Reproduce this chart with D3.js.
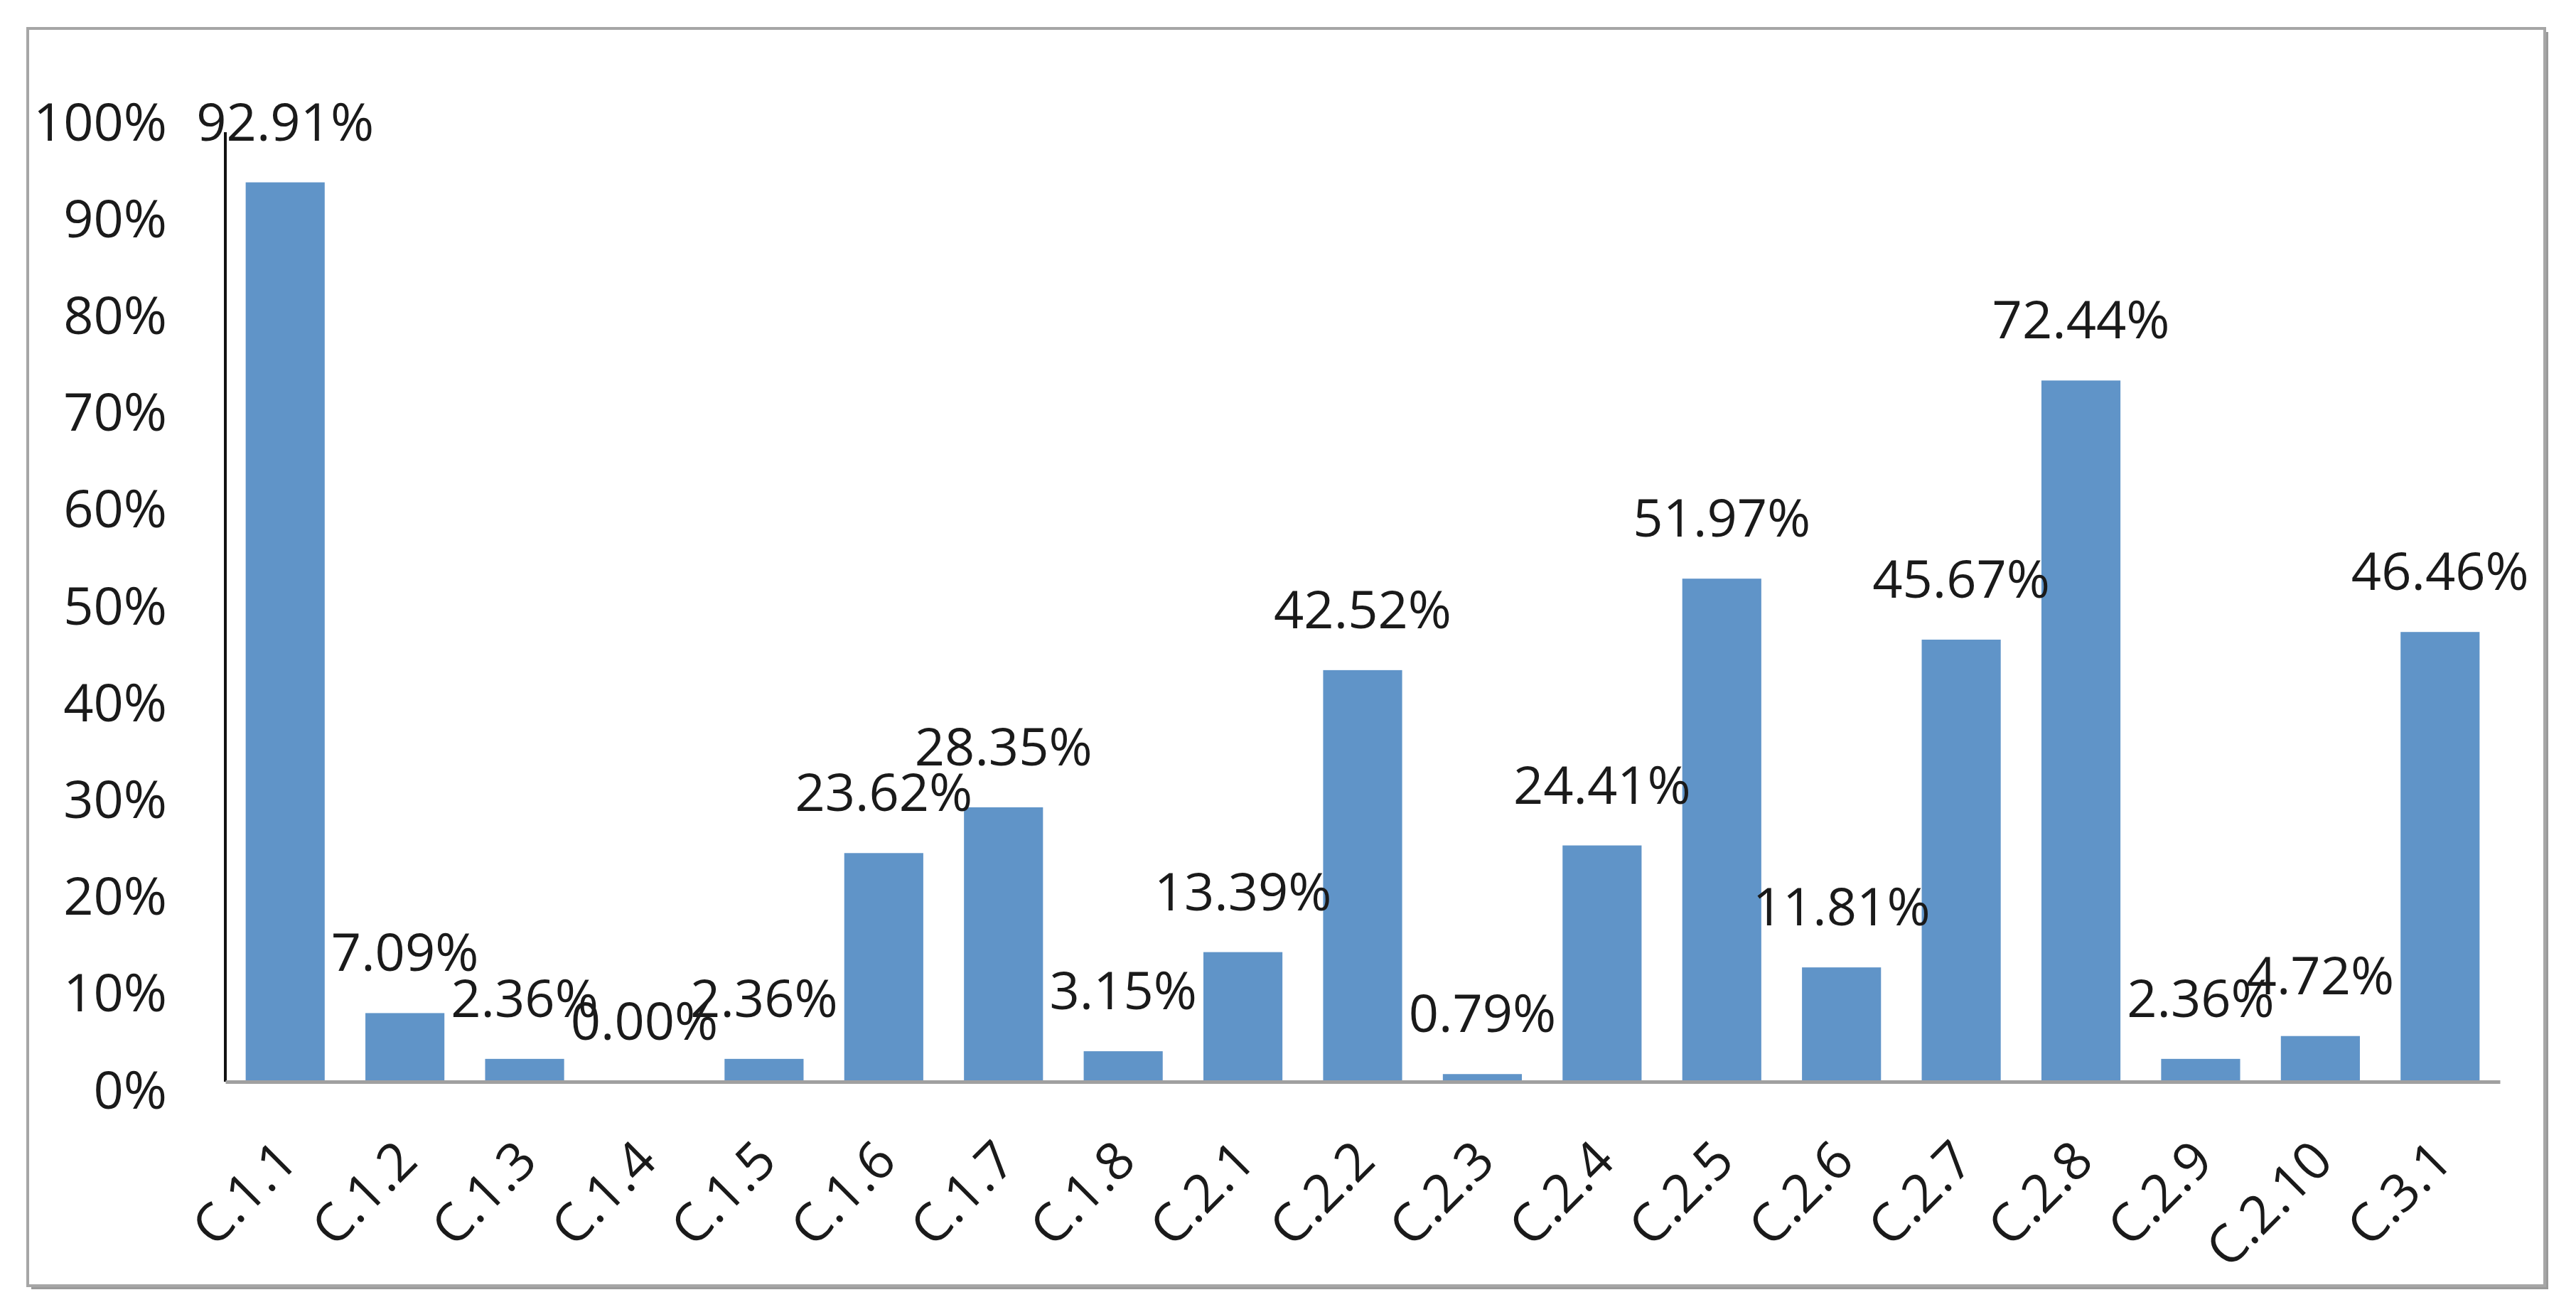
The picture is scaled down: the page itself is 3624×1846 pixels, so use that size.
<!DOCTYPE html>
<html><head><meta charset="utf-8">
<script src="https://cdn.jsdelivr.net/npm/d3@7"></script>
<style>
html,body{margin:0;padding:0;background:#fff;}
svg{display:block;}
text{font-family:"Open Sans",sans-serif;fill:#1a1a1a;}
</style></head>
<body>
<script>
const categories = ["C.1.1","C.1.2","C.1.3","C.1.4","C.1.5","C.1.6","C.1.7","C.1.8","C.2.1","C.2.2","C.2.3","C.2.4","C.2.5","C.2.6","C.2.7","C.2.8","C.2.9","C.2.10","C.3.1"];
const values = [92.91,7.09,2.36,0.00,2.36,23.62,28.35,3.15,13.39,42.52,0.79,24.41,51.97,11.81,45.67,72.44,2.36,4.72,46.46];
const yTicks = [0,10,20,30,40,50,60,70,80,90,100];

const W = 3624, H = 1846;
const plot = {left:317, right:3517, top:160, bottom:1522};
const FS = 74;

const svg = d3.select("body").append("svg").attr("width",W).attr("height",H);

// outer frame with shadow
svg.append("rect").attr("x",44).attr("y",45).attr("width",3541).attr("height",1769).attr("fill","#9a9a9a");
svg.append("rect").attr("x",39).attr("y",40).attr("width",3541).attr("height",1769)
  .attr("fill","#fff").attr("stroke","#a6a6a6").attr("stroke-width",4);

const x = d3.scaleBand().domain(categories).range([plot.left, plot.right]).paddingInner(0.34).paddingOuter(0.17);
const y = d3.scaleLinear().domain([0,100]).range([plot.bottom, plot.top]);

// bars
svg.append("g").selectAll("rect").data(values).join("rect")
  .attr("x",(d,i)=>x(categories[i]))
  .attr("y",d=>y(d))
  .attr("width",x.bandwidth())
  .attr("height",d=>plot.bottom - y(d))
  .attr("fill","#6094c8");

// y axis
const yAxis = d3.axisLeft(y).tickValues(yTicks).tickFormat(d=>d+"%").tickSize(0).tickPadding(82);
const gy = svg.append("g").attr("transform",`translate(${plot.left},0)`).call(yAxis);
gy.select(".domain").remove();
gy.selectAll("text").attr("font-size",FS).attr("font-family","Open Sans").attr("fill","#1a1a1a").attr("dy","0.5em");
svg.append("line").attr("x1",plot.left).attr("x2",plot.left)
  .attr("y1",186).attr("y2",plot.bottom)
  .attr("stroke","#111").attr("stroke-width",4);

// x axis
const xAxis = d3.axisBottom(x).tickSize(0).tickPadding(0);
const gx = svg.append("g").attr("transform",`translate(0,${plot.bottom})`).call(xAxis);
gx.select(".domain").attr("stroke","#a0a0a0").attr("stroke-width",5);
gx.selectAll(".tick text")
  .attr("font-size",FS).attr("font-family","Open Sans").attr("fill","#1a1a1a")
  .attr("text-anchor","end")
  .attr("dy",null).attr("y",0)
  .attr("transform","translate(21,115) rotate(-45)");

// data labels
svg.append("g").selectAll("text").data(values).join("text")
  .attr("x",(d,i)=>x(categories[i]) + x.bandwidth()/2)
  .attr("y",d=>y(d) - 59)
  .attr("text-anchor","middle")
  .attr("font-size",FS)
  .text(d=>d.toFixed(2)+"%");
</script>
</body></html>
